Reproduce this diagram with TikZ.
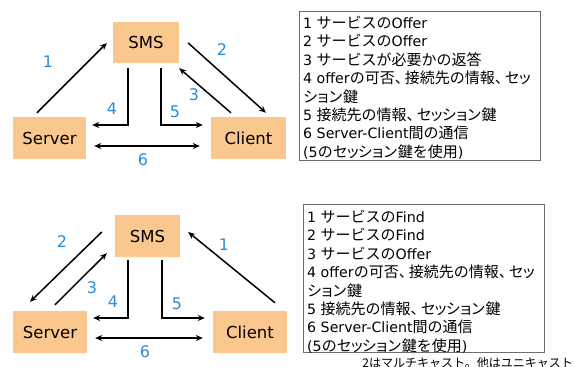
\documentclass[tikz,border=0pt]{standalone}
\usepackage{fontspec}
\setmainfont{DejaVu Sans}
\newfontfamily\jpf{Noto Sans CJK JP}
\usetikzlibrary{arrows.meta,calc}
\definecolor{boxfill}{HTML}{FAC88E}
\definecolor{numblue}{HTML}{2A8CDA}
\definecolor{frame}{HTML}{6E6E6E}
% narrower comma and small kana
\newcommand\tcomma{、\kern-5pt}
\newcommand\smk[1]{\kern-2.5pt#1\kern-2.5pt}
\newcommand\jp[1]{{\jpf\fontsize{15}{18}\selectfont #1}}
\tikzset{
  entity/.style={fill=boxfill, draw=none, inner sep=0pt, font=\fontsize{16.5}{18}\selectfont},
  msg/.style={line width=1.5pt, -{Stealth[length=7pt,width=6pt]}},
  both/.style={line width=1.5pt, {Stealth[length=7pt,width=6pt]}-{Stealth[length=7pt,width=6pt]}},
  num/.style={text=numblue, inner sep=0pt, font=\fontsize{16}{18}\selectfont},
  legend/.style={draw=frame, line width=0.8pt, fill=white, inner sep=0pt},
  line/.style={anchor=base west, inner sep=0pt, font=\fontsize{14.2}{16}\selectfont},
}
\begin{document}
\begin{tikzpicture}[x=1pt,y=-1pt]
\useasboundingbox (0,0) rectangle (574,367);

% ---------- upper scenario: Server offers ----------
\node[entity, minimum width=66pt, minimum height=41pt] (smsA) at (146,42.5) {SMS};
\node[entity, minimum width=73pt, minimum height=42pt] (srvA) at (49.5,138) {Server};
\node[entity, minimum width=75pt, minimum height=42pt] (cliA) at (248.5,138) {Client};

\draw[msg] ($(srvA.north)+(-12.5,-4)$) -- ($(smsA.west)+(-6,0.5)$);
\draw[msg] ($(smsA.east)+(9,0.5)$) -- ($(cliA.north)+(17.5,-4)$);
\draw[msg] ($(cliA.north)+(-17.5,-4)$) -- ($(smsA.south east)+(0,5)$);
\draw[msg] ($(smsA.south)+(-18,5)$) |- ($(srvA.east)+(6,-13)$);
\draw[msg] ($(smsA.south)+(15,5)$) |- ($(cliA.west)+(-8,-13)$);
\draw[both] ($(srvA.east)+(8,8)$) -- ($(cliA.west)+(-11,8)$);

\node[num] (a1) at (48,62) {1};
\node[num] (a2) at (222,50) {2};
\node[num] (a3) at (194,95) {3};
\node[num] (a4) at (112,109) {4};
\node[num] (a5) at (175,112) {5};
\node[num] (a6) at (143,160) {6};

\node[legend, minimum width=241pt, minimum height=149pt] (legA) at (419.5,85.5) {};
\foreach \t [count=\i] in {
  {1 \jp{サービスの}Offer},
  {2 \jp{サービスの}Offer},
  {3 \jp{サービスが必要かの返答}},
  {4 offer\jp{の可否\tcomma 接続先の情報\tcomma セ\smk{ッ}}},
  {\jp{シ\smk{ョ}ン鍵}},
  {5 \jp{接続先の情報\tcomma セ\smk{ッ}シ\smk{ョ}ン鍵}},
  {6 Server-Client\jp{間の通信}},
  {(5\jp{のセ\smk{ッ}シ\smk{ョ}ン鍵を使用})}}
  \node[line] (la\i) at (303,{28.5+18.4*(\i-1)}) {\t};

% ---------- lower scenario: Client finds ----------
\node[entity, minimum width=65pt, minimum height=42pt] (smsB) at (147.5,236) {SMS};
\node[entity, minimum width=74pt, minimum height=42pt] (srvB) at (50,332) {Server};
\node[entity, minimum width=74pt, minimum height=42pt] (cliB) at (250,332) {Client};

\draw[msg] ($(smsB.west)+(-13,-4)$) -- ($(srvB.north)+(-20,-9)$);
\draw[msg] ($(srvB.north)+(5,-6)$) -- ($(smsB.south west)+(-8,-4)$);
\draw[msg] ($(cliB.north)+(25,-8)$) -- ($(smsB.east)+(8,-4)$);
\draw[msg] ($(smsB.south)+(-19.5,3)$) |- ($(srvB.east)+(6,-14)$);
\draw[msg] ($(smsB.south)+(14.5,3)$) |- ($(cliB.west)+(-8,-14)$);
\draw[both] ($(srvB.east)+(8,6)$) -- ($(cliB.west)+(-10,6)$);

\node[num] (b2) at (62,242) {2};
\node[num] (b3) at (92,288) {3};
\node[num] (b1) at (224,245) {1};
\node[num] (b4) at (113,302) {4};
\node[num] (b5) at (177,304) {5};
\node[num] (b6) at (145,352) {6};

\node[legend, minimum width=241pt, minimum height=148pt] (legB) at (423.5,278) {};
\foreach \t [count=\i] in {
  {1 \jp{サービスの}Find},
  {2 \jp{サービスの}Find},
  {3 \jp{サービスの}Offer},
  {4 offer\jp{の可否\tcomma 接続先の情報\tcomma セ\smk{ッ}}},
  {\jp{シ\smk{ョ}ン鍵}},
  {5 \jp{接続先の情報\tcomma セ\smk{ッ}シ\smk{ョ}ン鍵}},
  {6 Server-Client\jp{間の通信}},
  {(5\jp{のセ\smk{ッ}シ\smk{ョ}ン鍵を使用})}}
  \node[line] (lb\i) at (307,{222.5+18.4*(\i-1)}) {\t};

\node[anchor=base east, inner sep=0pt, font=\jpf\fontsize{12}{14}\selectfont] (note) at (573,367) {2はマルチキャスト。他はユニキャスト};
\end{tikzpicture}
\end{document}
